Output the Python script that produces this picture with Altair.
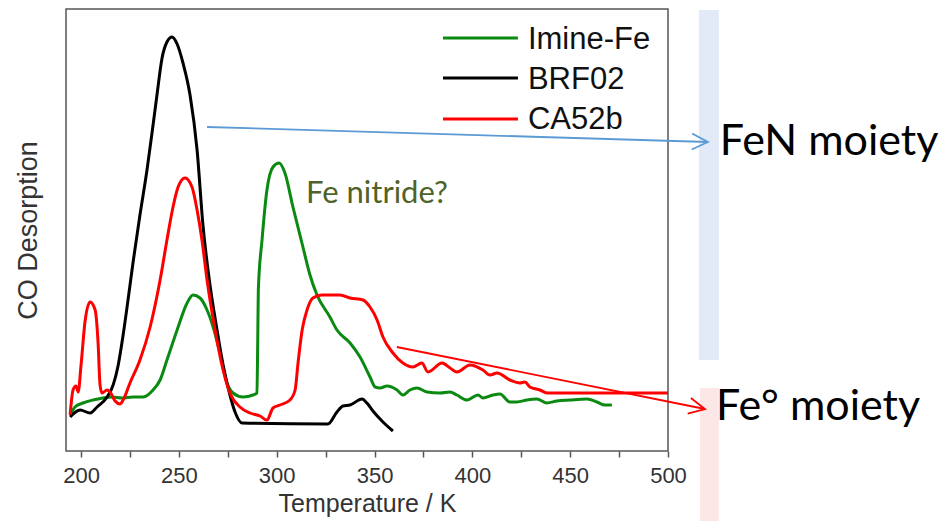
import altair as alt
import pandas as pd

# ---------------- data ----------------
series_names = ["Imine-Fe", "BRF02", "CA52b"]
series_colors = ["#0b8a12", "#000000", "#ff0000"]

imine_T = [194.4, 196.9, 201.0, 206.1, 211.2, 215.8, 221.0, 226.6, 231.7, 236.8,
           240.4, 243.9, 249.1, 254.2, 257.2, 260.8, 264.4, 267.5, 271.0, 274.6,
           277.7, 282.8, 287.9, 289.9, 290.3, 290.6, 292.5, 295.0, 298.1, 301.2,
           304.2, 308.3, 313.4, 317.0, 320.6, 327.2, 330.8, 337.5, 342.6, 347.7,
           350.3, 352.8, 356.4, 361.5, 364.5, 368.1, 371.7, 376.8, 383.4, 388.6,
           392.1, 397.2, 402.9, 405.4, 410.5, 414.1, 419.2, 422.8, 427.9, 433.0,
           438.1, 443.2, 449.9, 458.6, 463.7, 467.8, 471.3]
imine_I = [36, 44, 48, 51, 53, 54, 53, 54, 54, 61,
           71, 91, 121, 148, 156, 153, 141, 124, 98, 68,
           58, 54, 56, 58, 110, 161, 211, 261, 284, 288,
           278, 244, 204, 176, 156, 134, 121, 108, 94, 74,
           64, 63, 65, 61, 56, 61, 63, 59, 58, 59,
           56, 51, 56, 53, 56, 57, 49, 49, 51, 52,
           48, 50, 51, 52, 49, 46, 46]

brf_T = [194.4, 199.5, 204.6, 208.2, 213.3, 216.4, 218.9, 221.5, 224.0, 226.6,
         230.1, 233.7, 236.8, 238.8, 241.4, 243.9, 246.5, 249.1, 252.1, 255.7,
         259.3, 262.3, 265.9, 269.5, 272.6, 276.1, 278.7, 282.3, 326.2, 330.8,
         333.9, 337.5, 343.6, 346.1, 349.2, 354.3, 359.4]
brf_I = [34, 41, 38, 44, 54, 66, 85, 116, 151, 189,
         236, 281, 326, 356, 393, 409, 414, 407, 388, 356,
         301, 226, 166, 121, 86, 56, 39, 28, 27, 39,
         45, 46, 52, 48, 40, 29, 20]

ca_T = [194.4, 195.9, 197.4, 198.5, 200.0, 202.0, 204.6, 207.2, 208.7, 209.7,
        210.7, 213.3, 214.8, 217.4, 219.9, 221.5, 225.0, 230.1, 235.3, 240.4,
        243.9, 247.0, 249.6, 253.1, 256.7, 259.3, 261.8, 264.4, 268.5, 272.6,
        276.1, 281.2, 286.4, 291.5, 295.0, 298.1, 301.7, 306.8, 309.4, 310.9,
        313.0, 315.5, 318.5, 323.1, 327.2, 332.3, 337.5, 344.1, 347.7, 351.3,
        354.3, 359.4, 364.5, 369.6, 374.2, 377.3, 384.5, 388.6, 392.1, 398.8,
        405.4, 409.0, 412.6, 419.2, 424.3, 426.9, 429.4, 434.5, 438.6, 500.0]
ca_I = [36, 61, 65, 59, 86, 129, 149, 141, 108, 66,
        58, 61, 59, 50, 47, 51, 68, 91, 124, 171,
        211, 244, 264, 273, 264, 241, 211, 171, 121, 81,
        58, 44, 38, 35, 31, 43, 46, 51, 61, 88,
        121, 141, 153, 156, 156, 156, 153, 151, 144, 131,
        114, 98, 88, 84, 88, 79, 88, 83, 79, 86,
        81, 76, 78, 71, 68, 69, 64, 61, 58, 58]

x_ticks = [200, 225, 250, 275, 300, 325, 350, 375, 400, 425, 450, 475, 500]

# ---------------- tables ----------------
curves = pd.concat([
    pd.DataFrame({"series": series_names[0], "T": imine_T, "I": imine_I}),
    pd.DataFrame({"series": series_names[1], "T": brf_T, "I": brf_I}),
    pd.DataFrame({"series": series_names[2], "T": ca_T, "I": ca_I}),
], ignore_index=True)

X_DOMAIN = [192.3, 500]
Y_DOMAIN = [0, 442]
xs = alt.Scale(domain=X_DOMAIN, nice=False, zero=False)
ys = alt.Scale(domain=Y_DOMAIN, nice=False, zero=False)
cs = alt.Scale(domain=series_names, range=series_colors)

LABEL_FONT = "Liberation Sans"
NOTE_FONT = "Lato"

X_AXIS = alt.Axis(values=x_ticks,
                  labelExpr="datum.value % 50 === 0 ? datum.label : ''",
                  labelOverlap=False, labelFlush=False, labelBound=False,
                  tickSize=6, tickWidth=1.5, tickColor="#555",
                  domain=False, grid=False,
                  labelFont=LABEL_FONT, labelFontSize=22, labelColor="#333",
                  labelPadding=8,
                  titleFont=LABEL_FONT, titleFontSize=25, titleColor="#333",
                  titleFontWeight="normal", titlePadding=5)
Y_AXIS = alt.Axis(labels=False, ticks=False, domain=False, grid=False,
                  titleFont=LABEL_FONT, titleFontSize=27, titleColor="#333",
                  titleFontWeight="normal", titlePadding=24)
X_TITLE = "Temperature / K"
Y_TITLE = "CO Desorption"


def X(field):
    return alt.X(field, scale=xs, axis=X_AXIS, title=X_TITLE)


def Y(field):
    return alt.Y(field, scale=ys, axis=Y_AXIS, title=Y_TITLE)


# side bands (outside the plot, in data units)
bands = pd.DataFrame({
    "T": [515.8, 516.3], "T2": [526.0, 526.0],
    "I": [441, 63], "I2": [91, -90],
    "c": ["#e1eaf6", "#fde6e6"],
})
band_layer = alt.Chart(bands).mark_rect().encode(
    x=X("T:Q"), x2="T2:Q",
    y=Y("I:Q"), y2="I2:Q",
    color=alt.Color("c:N", scale=None),
)

line_layer = alt.Chart(curves).mark_line(strokeWidth=3, interpolate="monotone").encode(
    x=X("T:Q"),
    y=Y("I:Q"),
    color=alt.Color("series:N", scale=cs, legend=None),
    detail="series:N",
)

# custom legend (upper right inside the frame)
legend_df = pd.DataFrame({
    "series": series_names,
    "x1": [385.0] * 3, "x2": [423.3] * 3, "tx": [428.4] * 3,
    "ly": [413, 373, 332], "ty": [402, 362, 322],
})
legend_lines = alt.Chart(legend_df).mark_rule(strokeWidth=3).encode(
    x=X("x1:Q"), x2="x2:Q",
    y=Y("ly:Q"),
    color=alt.Color("series:N", scale=cs, legend=None),
)
legend_text = alt.Chart(legend_df).mark_text(
    align="left", baseline="alphabetic", font=LABEL_FONT, fontSize=31, color="#111"
).encode(
    x=X("tx:Q"),
    y=Y("ty:Q"),
    text="series:N",
)

# annotations
nitride_df = pd.DataFrame({"T": [315.0], "I": [248], "t": ["Fe nitride?"]})
nitride = alt.Chart(nitride_df).mark_text(
    align="left", baseline="alphabetic", font=NOTE_FONT, fontSize=31, color="#4f6228"
).encode(x=X("T:Q"), y=Y("I:Q"), text="t:N")

moiety_df = pd.DataFrame({"T": [526.5, 524.5], "I": [296, 31], "t": ["FeN moiety", "Fe° moiety"]})
moiety = alt.Chart(moiety_df).mark_text(
    align="left", baseline="alphabetic", font=NOTE_FONT, fontSize=43, color="#000"
).encode(x=X("T:Q"), y=Y("I:Q"), text="t:N")

arrows = pd.DataFrame({
    "T": [264.4, 361.4], "I": [324, 104],
    "T2": [520.4, 518.9], "I2": [309, 42],
    "ang": [1.7, 11.6],
    "c": ["#5b9bd5", "#ff0000"],
})
arrow_lines = alt.Chart(arrows).mark_rule(strokeWidth=1.8).encode(
    x=X("T:Q"), x2="T2:Q",
    y=Y("I:Q"), y2="I2:Q",
    color=alt.Color("c:N", scale=None),
)
CHEVRON = "M-2,-1L0,0L-2,1"
arrow_heads = alt.Chart(arrows).mark_point(
    shape=CHEVRON, size=256, filled=False, strokeWidth=1.8, opacity=1
).encode(
    x=X("T2:Q"),
    y=Y("I2:Q"),
    angle=alt.Angle("ang:Q", scale=None),
    color=alt.Color("c:N", scale=None),
)

chart = alt.layer(
    band_layer, line_layer, legend_lines, legend_text, nitride,
    arrow_lines, arrow_heads, moiety,
).properties(
    width=602, height=442,
    autosize=alt.AutoSizeParams(type="none"),
    padding={"left": 58, "top": 1, "right": 273, "bottom": 70},
).configure(
    background="white",
    view=alt.ViewConfig(stroke="#555", strokeWidth=1.5),
)

chart.save("out.html", embed_options={"renderer": "svg", "actions": False})
